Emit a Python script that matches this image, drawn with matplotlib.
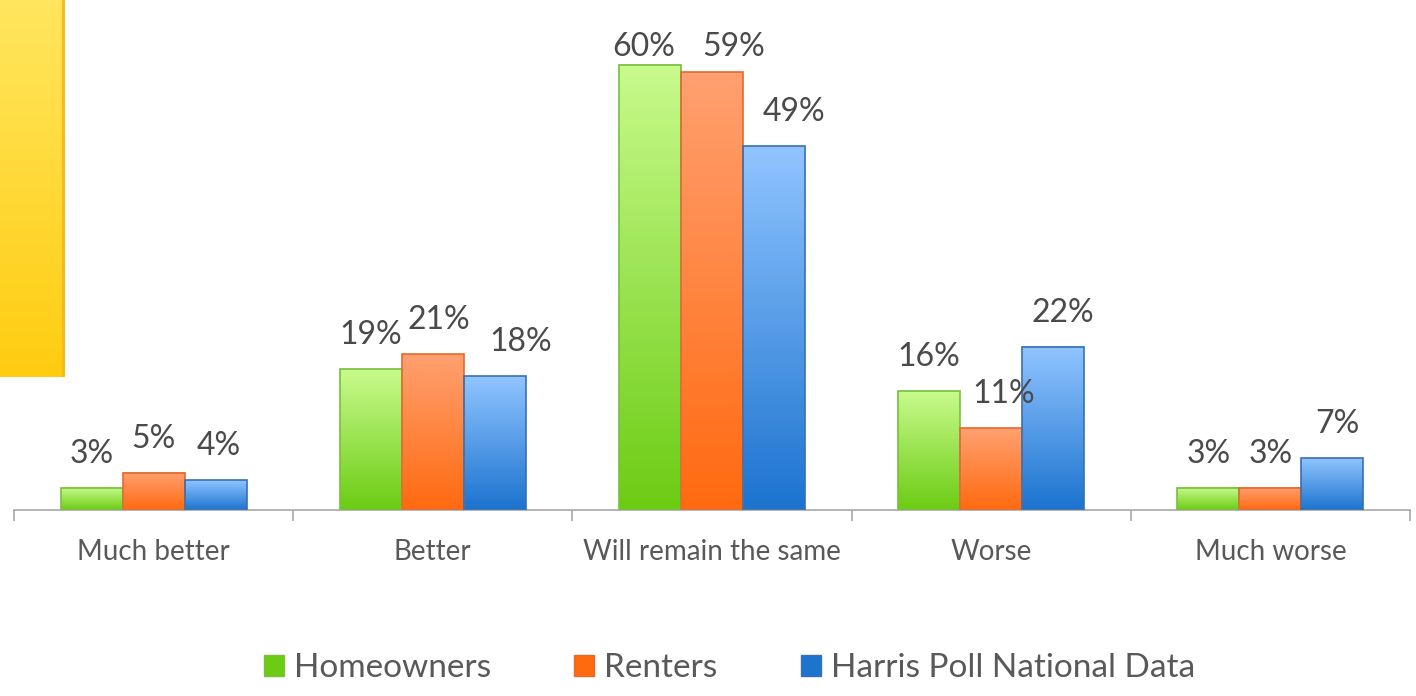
import numpy as np
import matplotlib
matplotlib.use("Agg")
import matplotlib.pyplot as plt
from matplotlib.colors import LinearSegmentedColormap
from matplotlib.patches import Patch

plt.rcParams['font.family'] = ['Lato', 'DejaVu Sans']

# datos
categorias = ["Much better", "Better", "Will remain the same", "Worse", "Much worse"]
series = ["Homeowners", "Renters", "Harris Poll National Data"]
homeowners = [3, 19, 60, 16, 3]
renters = [5, 21, 59, 11, 3]
harris = [4, 18, 49, 22, 7]
valores = [homeowners, renters, harris]

# corrimiento horizontal de las etiquetas (px), como las movio Excel
corr = [[0, 0, -6, 0, 0], [0, 6, 22, 12, 0], [3, 26, 20, 10, 5]]

# degradados (arriba, abajo) y bordes
grad = [("#c8fa8c", "#6ccc14"), ("#ffa070", "#ff6a10"), ("#90c4ff", "#1c74cf")]
bordes = ["#78bf3c", "#e46a30", "#3a70b0"]

fig = plt.figure(figsize=(14.16, 6.96), dpi=100)
ax = fig.add_axes([14/1416, 1-510/696, 1396/1416, 510/696])
ymax = 510/7.42
ancho = 0.222
x = np.arange(len(categorias))

for i, vals in enumerate(valores):
    pos = x + (i-1)*ancho
    barras = ax.bar(pos, vals, ancho, facecolor="none", edgecolor=bordes[i], linewidth=1.2, zorder=3)
    cmap = LinearSegmentedColormap.from_list("g%d" % i, [grad[i][1], grad[i][0]])
    for r in barras:
        x0, w, h = r.get_x(), r.get_width(), r.get_height()
        g = np.linspace(0, 1, 100).reshape(-1, 1)
        ax.imshow(g, extent=[x0, x0+w, 0, h], origin="lower", aspect="auto", cmap=cmap, zorder=2)
    for j, (p, v) in enumerate(zip(pos, vals)):
        ytxt = min(v + 4.6, 62.4)
        ax.annotate("%d%%" % v, (p, ytxt), xytext=(corr[i][j]*0.72, 0), textcoords="offset points",
                    ha="center", va="center", fontsize=23, color="#4a4a4a", zorder=4)

ax.set_xlim(-0.5, len(categorias)-0.5)
ax.set_ylim(0, ymax)
for s in ["top", "right", "left"]:
    ax.spines[s].set_visible(False)
ax.spines["bottom"].set_color("#a8a8a8")
ax.spines["bottom"].set_linewidth(1.2)
ax.set_yticks([])
ax.set_xticks(np.arange(-0.5, len(categorias)), minor=True)
ax.set_xticks(x)
ax.set_xticklabels(categorias, fontsize=20, color="#595959")
ax.tick_params(axis="x", which="major", length=0, pad=21)
ax.tick_params(axis="x", which="minor", length=8, color="#a8a8a8", width=1.2)

# leyenda
handles = [Patch(facecolor=grad[i][1], edgecolor=bordes[i], label=series[i]) for i in range(3)]
fig.legend(handles=handles, loc="center", bbox_to_anchor=(0.515, 1-668/696), ncol=3, frameon=False,
           fontsize=24, labelcolor="#595959", handlelength=0.6, handleheight=0.6, handletextpad=0.3,
           columnspacing=2.5)

# rectangulo amarillo decorativo
ay = fig.add_axes([0, 1-377/696, 65/1416, 377/696])
cmy = LinearSegmentedColormap.from_list("am", ["#ffcc10", "#ffe65e"])
ay.imshow(np.linspace(0, 1, 100).reshape(-1, 1), origin="lower", aspect="auto", cmap=cmy, extent=[0, 1, 0, 1])
ay.axvline(0.97, color="#f7b81a", linewidth=2)
ay.axis("off")

fig.savefig("out.png", dpi=100)
